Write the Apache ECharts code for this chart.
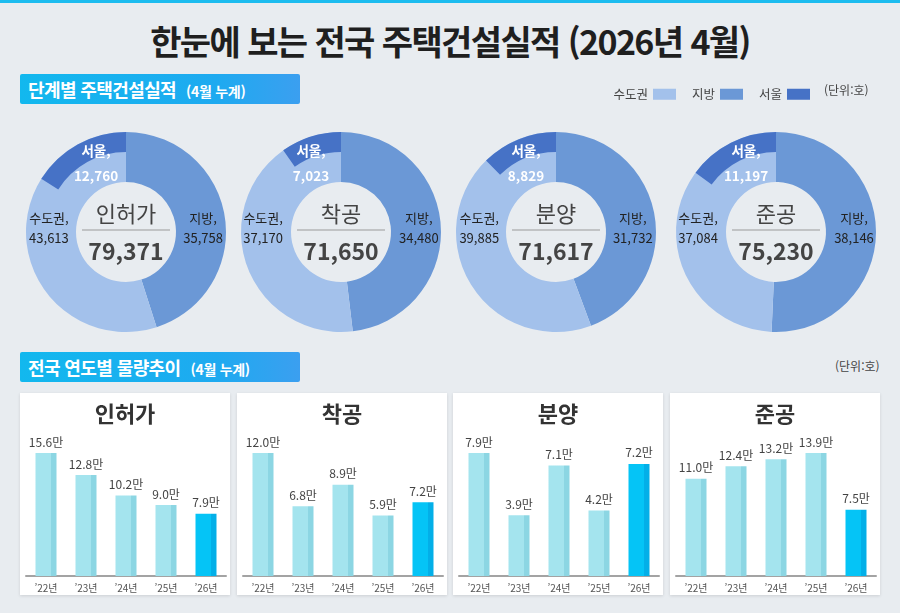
<!DOCTYPE html>
<html lang="ko">
<head>
<meta charset="utf-8">
<script src="https://cdn.jsdelivr.net/npm/echarts@6/dist/echarts.min.js"></script>
<style>
  html, body { margin: 0; padding: 0; }
  body {
    width: 900px; height: 613px; position: relative; overflow: hidden;
    background: #e8ecf0;
    font-family: "Noto Sans CJK KR", "Noto Sans", sans-serif;
  }
  .topline { position: absolute; left: 0; top: 0; width: 900px; height: 3px; background: #1cbcef; }
  .title {
    position: absolute; left: 0; top: 18px; width: 900px; text-align: center;
    font-size: 34px; font-weight: 700; color: #1f1f1f; letter-spacing: -1.6px; line-height: 46px;
  }
  .head {
    position: absolute; left: 20px; width: 280px; height: 30px; border-radius: 2px;
    background: linear-gradient(90deg, #12b8ee 0%, #1eaaf0 70%, #3b9ff0 100%);
    color: #fff; font-weight: 700; font-size: 18px; line-height: 30px; padding-left: 8px;
    box-sizing: border-box; z-index: 2; letter-spacing: -0.6px;
  }
  .head small { font-size: 14px; margin-left: 10px; letter-spacing: -0.3px; }
  .unit { position: absolute; font-size: 12px; color: #444; z-index: 2; }
  #donuts { position: absolute; left: 0; top: 60px; width: 900px; height: 290px; }
  .card {
    position: absolute; top: 393px; width: 210px; height: 202px; background: #fff;
    box-shadow: 0 1px 3px rgba(0, 0, 0, 0.12);
  }
</style>
</head>
<body>
<div class="topline"></div>
<div class="title">한눈에 보는 전국 주택건설실적 (2026년 4월)</div>
<div id="donuts"></div>
<div class="head" style="top:74px">단계별 주택건설실적<small>(4월 누계)</small></div>
<div class="unit" style="left:824px; top:81px">(단위:호)</div>
<div class="head" style="top:352px">전국 연도별 물량추이<small>(4월 누계)</small></div>
<div class="unit" style="left:835px; top:357px">(단위:호)</div>
<div class="card" id="bar-0" style="left:20px"></div>
<div class="card" id="bar-1" style="left:237px"></div>
<div class="card" id="bar-2" style="left:453px"></div>
<div class="card" id="bar-3" style="left:670px"></div>
<script>
const font = "Noto Sans CJK KR";

// 단계별 (4월 누계, 호)
const stages = ["인허가", "착공", "분양", "준공"];
const capitalArea = [43613, 37170, 39885, 37084];
const regional = [35758, 34480, 31732, 38146];
const seoul = [12760, 7023, 8829, 11197];

// 연도별 (만호)
const years = ["’22년", "’23년", "’24년", "’25년", "’26년"];
const permitTrend = [15.6, 12.8, 10.2, 9.0, 7.9];
const startTrend = [12.0, 6.8, 8.9, 5.9, 7.2];
const saleTrend = [7.9, 3.9, 7.1, 4.2, 7.2];
const completionTrend = [11.0, 12.4, 13.2, 13.9, 7.5];

const colors = { capital: "#a3c1eb", regional: "#6b98d6", seoul: "#4672c6" };
const centers = [[126, 172], [341, 172], [556, 172], [776, 172]];

const fmt = (n) => n.toLocaleString("en-US");

// move a label so its centre lands on (tx, ty); null keeps that axis
function labelAt(p, tx, ty) {
  const r = p.labelRect;
  return {
    dx: tx == null ? 0 : tx - (r.x + r.width / 2),
    dy: ty == null ? 0 : ty - (r.y + r.height / 2)
  };
}

const donut = echarts.init(document.getElementById("donuts"));
const pieSeries = [];
const centerText = [];

stages.forEach((name, i) => {
  const total = capitalArea[i] + regional[i];
  const [cx, cy] = centers[i];
  pieSeries.push({
    type: "pie",
    center: [cx, cy],
    radius: [50, 100],
    startAngle: 90,
    clockwise: true,
    silent: true,
    data: [
      { name: "지방", value: regional[i], itemStyle: { color: colors.regional } },
      { name: "수도권", value: capitalArea[i], itemStyle: { color: colors.capital } }
    ],
    label: {
      show: true,
      position: "inside",
      fontFamily: font,
      fontSize: 13,
      lineHeight: 20,
      color: "#222",
      formatter: (p) => p.name + ",\n" + fmt(p.value)
    },
    labelLayout: (p) => labelAt(p, null, cy - 4),
    labelLine: { show: false }
  });
  pieSeries.push({
    type: "pie",
    center: [cx, cy],
    radius: [80, 100],
    startAngle: 90,
    clockwise: false,
    silent: true,
    data: [
      { name: "서울", value: seoul[i], itemStyle: { color: colors.seoul } },
      {
        name: "",
        value: total - seoul[i],
        itemStyle: { color: "rgba(0,0,0,0)" },
        label: { show: false }
      }
    ],
    label: {
      show: true,
      position: "inside",
      fontFamily: font,
      fontSize: 13.5,
      fontWeight: "bold",
      lineHeight: 25,
      color: "#fff",
      formatter: (p) => p.name + ",\n" + fmt(p.value)
    },
    labelLayout: (p) => labelAt(p, cx - 30, cy - 69),
    labelLine: { show: false }
  });
  centerText.push(
    {
      type: "text",
      x: cx, y: cy - 18,
      style: { text: name, fontFamily: font, fontSize: 22, fill: "#444", align: "center", verticalAlign: "middle" }
    },
    {
      type: "line",
      shape: { x1: cx - 44, y1: cy - 2, x2: cx + 44, y2: cy - 2 },
      style: { stroke: "#9a9a9a", lineWidth: 1 }
    },
    {
      type: "text",
      x: cx, y: cy + 19,
      style: { text: fmt(total), fontFamily: font, fontSize: 23, fontWeight: "bold", fill: "#444", align: "center", verticalAlign: "middle" }
    }
  );
});

donut.setOption({
  animation: false,
  legend: {
    data: ["수도권", "지방", "서울"],
    right: 85,
    top: 23,
    align: "right",
    icon: "rect",
    itemWidth: 23,
    itemHeight: 11,
    itemGap: 16,
    selectedMode: false,
    textStyle: { fontFamily: font, fontSize: 12.5, color: "#444" }
  },
  series: pieSeries,
  graphic: centerText
});

function barColor(hot) {
  const main = hot ? "#05c4f6" : "#a4e4ee";
  const side = hot ? "#03afe8" : "#8cd6e3";
  return {
    type: "linear", x: 0, y: 0, x2: 1, y2: 0,
    colorStops: [
      { offset: 0, color: main },
      { offset: 0.74, color: main },
      { offset: 0.74, color: side },
      { offset: 1, color: side }
    ]
  };
}

function barOption(title, values) {
  const last = values.length - 1;
  return {
    animation: false,
    title: {
      text: title,
      left: "center",
      top: 5,
      textStyle: { fontFamily: font, fontSize: 22, fontWeight: "bold", color: "#333" }
    },
    grid: { left: 6, right: 4, top: 60, bottom: 19 },
    xAxis: {
      type: "category",
      data: years,
      axisLine: { lineStyle: { color: "#a3a3a3", width: 2 } },
      axisTick: { show: false },
      axisLabel: { fontFamily: font, fontSize: 10, color: "#555", margin: 7 }
    },
    yAxis: { type: "value", min: 0, max: "dataMax", show: false },
    series: [{
      type: "bar",
      barWidth: 21,
      data: values.map((v, i) => ({ value: v, itemStyle: { color: barColor(i === last) } })),
      label: {
        show: true,
        position: "top",
        distance: 5,
        fontFamily: font,
        fontSize: 12,
        color: "#444",
        formatter: (p) => p.value.toFixed(1) + "만"
      }
    }]
  };
}

const trends = [permitTrend, startTrend, saleTrend, completionTrend];
trends.forEach((values, i) => {
  const chart = echarts.init(document.getElementById("bar-" + i));
  chart.setOption(barOption(stages[i], values));
});
</script>
</body>
</html>
